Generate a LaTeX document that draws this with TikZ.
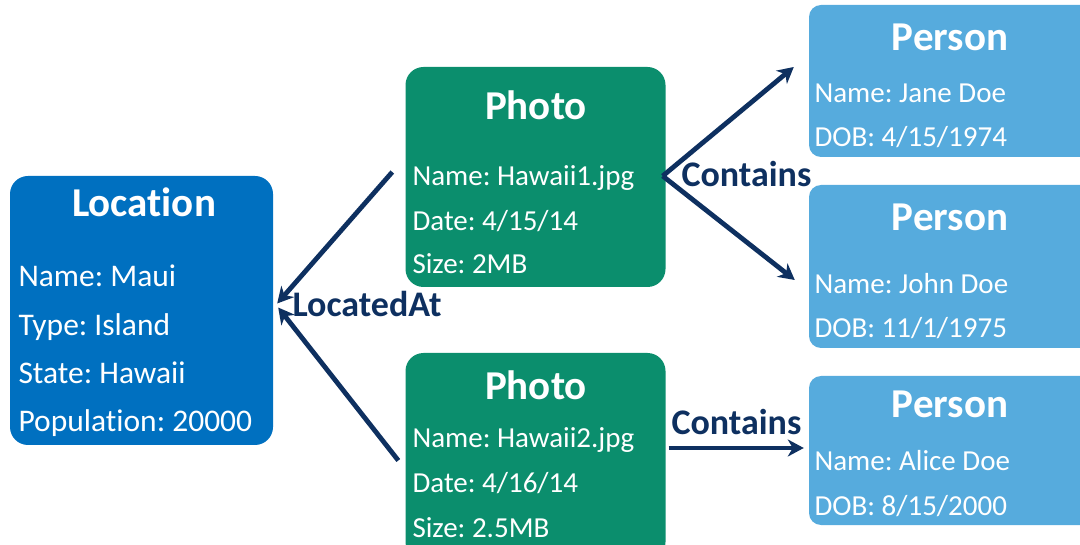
\documentclass[tikz,border=0pt]{standalone}
\usepackage{fontspec}
\setmainfont{Carlito}[Ligatures=CommonOff]
\usetikzlibrary{arrows.meta}
\frenchspacing
\definecolor{locblue}{RGB}{0,112,192}
\definecolor{photogreen}{RGB}{11,142,109}
\definecolor{personblue}{RGB}{86,171,221}
\definecolor{navy}{RGB}{14,48,96}
\tikzset{
  entity/.style={inner sep=0pt, rounded corners=18pt},
  personbox/.style={inner sep=0pt, rounded corners=12pt, fill=personblue},
  title/.style={anchor=base, text=white, font=\fontsize{41}{41}\selectfont\bfseries},
  field/.style={anchor=base west, text=white, font=\fontsize{29}{29}\selectfont},
  bigfield/.style={field, font=\fontsize{31.5}{31.5}\selectfont},
  rel/.style={anchor=base west, text=navy, font=\fontsize{36}{36}\selectfont\bfseries},
  arr/.style={draw=navy, line width=4.8pt, -{Stealth[length=16pt,width=17pt,inset=5pt]}}
}
\begin{document}
\begin{tikzpicture}[x=1pt,y=-1pt]
\useasboundingbox (0,0) rectangle (1080,545);

% Location entity
\node[entity, fill=locblue, minimum width=263pt, minimum height=269pt] (loc) at (141.5,310.5) {};
\node[title] (loct) at (144,217) {Location};
\node[bigfield] (loc1) at (15,287) {Name: Maui};
\node[bigfield] (loc2) at (15,336) {Type: Island};
\node[bigfield] (loc3) at (15,384) {State: Hawaii};
\node[bigfield] (loc4) at (15,432) {Population: 20000};

% Photo entities
\node[entity, fill=photogreen, minimum width=260pt, minimum height=220pt] (p1) at (535.5,177) {};
\node[title] (p1t) at (536,120) {Photo};
\node[field] (p1a) at (409,186) {Name: Hawaii1.jpg};
\node[field] (p1b) at (409,231) {Date: 4/15/14};
\node[field] (p1c) at (409,274) {Size: 2MB};

\node[entity, fill=photogreen, minimum width=260pt, minimum height=207pt] (p2) at (535.5,456.5) {};
\node[title] (p2t) at (536,400) {Photo};
\node[field] (p2a) at (409,448) {Name: Hawaii2.jpg};
\node[field] (p2b) at (409,493) {Date: 4/16/14};
\node[field] (p2c) at (409,537) {Size: 2.5MB};

% Person entities
\node[personbox, minimum width=290pt, minimum height=152pt] (q1) at (954,81) {};
\node[title] (q1t) at (950,51) {Person};
\node[field] (q1a) at (811,103) {Name: Jane Doe};
\node[field] (q1b) at (811,147) {DOB: 4/15/1974};

\node[personbox, minimum width=290pt, minimum height=163pt] (q2) at (954,266.5) {};
\node[title] (q2t) at (950,231) {Person};
\node[field] (q2a) at (811,294) {Name: John Doe};
\node[field] (q2b) at (811,338) {DOB: 11/1/1975};

\node[personbox, minimum width=290pt, minimum height=149pt] (q3) at (954,450.5) {};
\node[title] (q3t) at (950,418) {Person};
\node[field] (q3a) at (811,471) {Name: Alice Doe};
\node[field] (q3b) at (811,515) {DOB: 8/15/2000};

% Relationships
\draw[arr] ([shift={(-13,-5)}]p1.west) -- ([shift={(4,-7)}]loc.east);
\draw[arr] ([shift={(-7,4)}]p2.west) -- ([shift={(5,-3)}]loc.east);
\node[rel] (lat) at (289,317) {LocatedAt};

\draw[arr] ([shift={(-3,-1)}]p1.east) -- ([shift={(-15,-14)}]q1.west);
\draw[arr] ([shift={(-3,-1)}]p1.east) -- ([shift={(-14,13.5)}]q2.west);
\node[rel] (con1) at (678,187) {Contains};

\draw[arr] ([shift={(3,-8.5)}]p2.east) -- ([shift={(-5,-2.5)}]q3.west);
\node[rel] (con2) at (668,435) {Contains};
\end{tikzpicture}
\end{document}
